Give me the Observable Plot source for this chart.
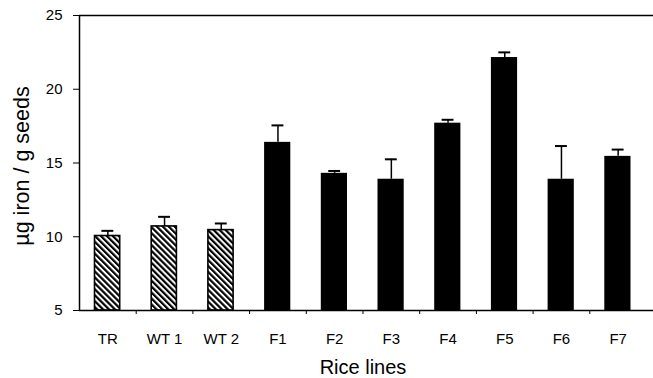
<!DOCTYPE html>
<html>
<head>
<meta charset="utf-8">
<script src="https://cdn.jsdelivr.net/npm/d3@7"></script>
<script src="https://cdn.jsdelivr.net/npm/@observablehq/plot@0.6"></script>
<style>
  html, body { margin: 0; padding: 0; background: #fff; }
  #chart svg { display: block; }
</style>
</head>
<body>
<div id="chart"></div>
<script>
const categories = ["TR", "WT 1", "WT 2", "F1", "F2", "F3", "F4", "F5", "F6", "F7"];
const means = [10.05, 10.7, 10.45, 16.4, 14.3, 13.9, 17.7, 22.15, 13.9, 15.45];
const errors = [0.35, 0.65, 0.45, 1.15, 0.16, 1.35, 0.23, 0.35, 2.25, 0.46];
const groups = ["control", "control", "control", "transgenic", "transgenic", "transgenic", "transgenic", "transgenic", "transgenic", "transgenic"];
const yTicks = [5, 10, 15, 20, 25];
const yLabel = "µg iron / g seeds";
const xLabel = "Rice lines";

const data = categories.map((c, i) => ({
  name: c, i, mean: means[i], err: errors[i], group: groups[i]
}));
const capHalf = 0.105;
const font = "'Liberation Sans', Arial, Helvetica, sans-serif";

const plot = Plot.plot({
  width: 653,
  height: 378,
  marginLeft: 79,
  marginRight: 7,
  marginTop: 15,
  marginBottom: 68,
  style: { fontFamily: font, color: "black", background: "white" },
  x: { type: "linear", domain: [0, categories.length] },
  y: { domain: [5, 25] },
  marks: [
    Plot.rectY(data.filter(d => d.group === "control"), {
      x1: "i", x2: d => d.i + 1, y1: 5, y2: "mean",
      insetLeft: 15.5, insetRight: 16, fill: "url(#hatch)", stroke: "black", strokeWidth: 1.6
    }),
    Plot.rectY(data.filter(d => d.group !== "control"), {
      x1: "i", x2: d => d.i + 1, y1: 5, y2: "mean",
      insetLeft: 15, insetRight: 15.5, fill: "black"
    }),
    Plot.ruleX(data, { x: d => d.i + 0.5, y1: "mean", y2: d => d.mean + d.err, stroke: "black", strokeWidth: 1.5 }),
    Plot.ruleY(data, { y: d => d.mean + d.err, x1: d => d.i + 0.5 - capHalf, x2: d => d.i + 0.5 + capHalf, stroke: "black", strokeWidth: 2 }),
    Plot.ruleX([0], { stroke: "black", strokeWidth: 1.5 }),
    Plot.ruleY([5, 25], { stroke: "black", strokeWidth: 1.5, insetRight: -7 }),
    Plot.axisY({ ticks: yTicks, tickSize: 6, tickPadding: 11, fontSize: 15, label: null, tickFormat: d => d }),
    Plot.axisX({ ticks: d3.range(1, categories.length), tickSize: 4, tickFormat: () => "", label: null }),
    Plot.text(data, { x: d => d.i + 0.5, y: 5, text: "name", dy: 29, fontSize: 15, fill: "black" }),
    Plot.text([xLabel], { frameAnchor: "bottom", lineAnchor: "middle", text: d => d, dy: 57, fontSize: 20, fill: "black" }),
    Plot.text([yLabel], { frameAnchor: "left", textAnchor: "middle", lineAnchor: "middle", text: d => d, rotate: -90, dx: -57, dy: 3, fontSize: 21.5, fill: "black" })
  ]
});

const svgNS = "http://www.w3.org/2000/svg";
const defs = document.createElementNS(svgNS, "defs");
defs.innerHTML = `<pattern id="hatch" patternUnits="userSpaceOnUse" width="4.2" height="4.2" patternTransform="rotate(-45)">
  <rect x="0" y="0" width="4.2" height="4.2" fill="white"></rect>
  <rect x="0" y="0" width="2.2" height="4.2" fill="black"></rect>
</pattern>`;
plot.insertBefore(defs, plot.firstChild);
document.getElementById("chart").appendChild(plot);
</script>
</body>
</html>
